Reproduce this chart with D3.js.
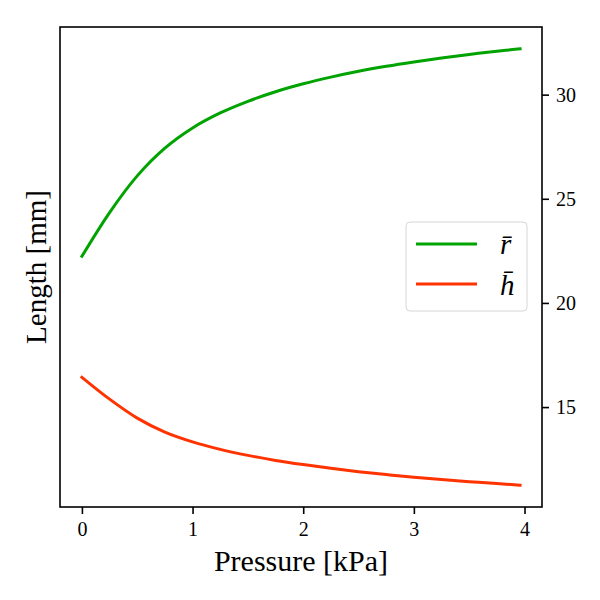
<!DOCTYPE html>
<html>
<head>
<meta charset="utf-8">
<script src="https://cdn.jsdelivr.net/npm/d3@7"></script>
<style>
  body { margin: 0; background: #fff; }
  svg { display: block; }
</style>
</head>
<body>
<div id="chart"></div>
<script>
// pressure values (kPa) sampled along the curves
const pressure = [0, 0.25, 0.5, 0.75, 1, 1.25, 1.5, 1.75, 2, 2.25, 2.5, 2.75, 3, 3.25, 3.5, 3.75, 3.96];
// mean radius r-bar (mm)
const rBar = [22.24, 24.34, 26.10, 27.43, 28.40, 29.12, 29.68, 30.14, 30.52, 30.84, 31.12, 31.36, 31.57, 31.76, 31.93, 32.08, 32.20];
// mean height h-bar (mm)
const hBar = [16.43, 15.38, 14.47, 13.80, 13.33, 12.97, 12.68, 12.44, 12.24, 12.06, 11.90, 11.76, 11.63, 11.52, 11.42, 11.33, 11.25];

const xTicks = [0, 1, 2, 3, 4];
const yTicks = [15, 20, 25, 30];
const seriesNames = ["r\u0304", "h\u0304"];
const seriesColors = ["#00a300", "#ff3300"];

const width = 600, height = 600;
const margins = {top: 27, right: 58, bottom: 93, left: 60};
const font = "'Liberation Serif', 'Times New Roman', serif";

const svg = d3.select("#chart")
  .append("svg")
    .attr("width", width)
    .attr("height", height);

// matplotlib style 5% padding around the data
const xExt = d3.extent(pressure);
const yExt = [d3.min(hBar), d3.max(rBar)];
const xPad = (xExt[1] - xExt[0]) * 0.05;
const yPad = (yExt[1] - yExt[0]) * 0.05;

const xScale = d3.scaleLinear()
  .domain([xExt[0] - xPad, xExt[1] + xPad])
  .range([margins.left, width - margins.right]);

const yScale = d3.scaleLinear()
  .domain([yExt[0] - yPad, yExt[1] + yPad])
  .range([height - margins.bottom, margins.top]);

/* lines */
const line = d3.line()
  .curve(d3.curveCatmullRom.alpha(0.5))
  .x(d => xScale(d[0]))
  .y(d => yScale(d[1]));

const series = [rBar, hBar].map(vals => pressure.map((p, i) => [p, vals[i]]));

svg.selectAll("path.series")
  .data(series)
  .join("path")
    .attr("class", "series")
    .attr("d", d => line(d))
    .style("fill", "none")
    .style("stroke", (d, i) => seriesColors[i])
    .style("stroke-width", 3)
    .style("stroke-linecap", "square");

/* axes box */
svg.append("rect")
  .attr("x", margins.left)
  .attr("y", margins.top)
  .attr("width", width - margins.left - margins.right)
  .attr("height", height - margins.top - margins.bottom)
  .style("fill", "none")
  .style("stroke", "#000")
  .style("stroke-width", 1.6);

const xAxis = d3.axisBottom(xScale).tickValues(xTicks).tickSize(7).tickPadding(8).tickFormat(d3.format("d"));
const xGroup = svg.append("g")
  .attr("transform", `translate(0,${height - margins.bottom})`)
  .call(xAxis);

const yAxis = d3.axisRight(yScale).tickValues(yTicks).tickSize(7).tickPadding(7).tickFormat(d3.format("d"));
const yGroup = svg.append("g")
  .attr("transform", `translate(${width - margins.right},0)`)
  .call(yAxis);

[xGroup, yGroup].forEach(g => {
  g.select(".domain").remove();
  g.selectAll("line").style("stroke", "#000").style("stroke-width", 1.6);
  g.selectAll("text")
    .style("font-family", font)
    .style("font-size", "20px")
    .style("fill", "#000");
});

/* axis labels */
svg.append("text")
  .attr("x", (margins.left + width - margins.right) / 2)
  .attr("y", 571)
  .attr("text-anchor", "middle")
  .style("font-family", font)
  .style("font-size", "30px")
  .text("Pressure [kPa]");

svg.append("text")
  .attr("transform", `translate(46,${(margins.top + height - margins.bottom) / 2}) rotate(-90)`)
  .attr("text-anchor", "middle")
  .style("font-family", font)
  .style("font-size", "29px")
  .text("Length [mm]");

/* legend */
const legend = svg.append("g").attr("transform", "translate(406,222)");
legend.append("rect")
  .attr("width", 121)
  .attr("height", 89)
  .attr("rx", 4)
  .style("fill", "#fff")
  .style("fill-opacity", 0.8)
  .style("stroke", "#d6d6d6")
  .style("stroke-width", 1);

const items = legend.selectAll("g.item")
  .data(seriesNames)
  .join("g")
    .attr("class", "item")
    .attr("transform", (d, i) => `translate(0,${22 + i * 40})`);

items.append("line")
  .attr("x1", 10).attr("x2", 71)
  .style("stroke", (d, i) => seriesColors[i])
  .style("stroke-width", 3);

items.append("text")
  .attr("x", 94)
  .attr("y", (d, i) => i === 0 ? 10 : 11)
  .style("font-family", font)
  .style("font-style", "italic")
  .style("font-size", "29px")
  .text(d => d);
</script>
</body>
</html>
